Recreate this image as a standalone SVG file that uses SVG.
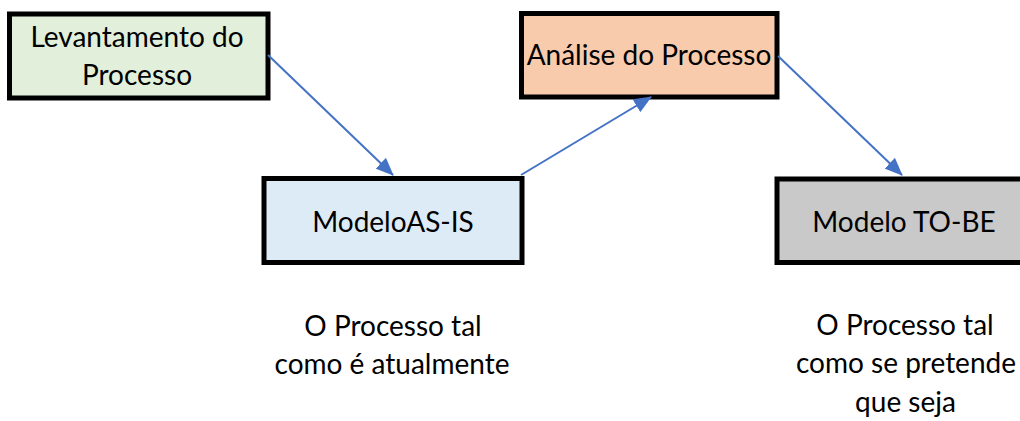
<svg xmlns="http://www.w3.org/2000/svg" width="1020" height="421" viewBox="0 0 1020 421">
<style>
.box{stroke:#000;stroke-width:5}
.t{font-family:Lato,"Liberation Sans",sans-serif;font-size:28px;fill:#000;text-anchor:middle}
.c{stroke:#4472C4;stroke-width:2;fill:none;marker-end:url(#ah)}
</style>
<defs>
<marker id="ah" viewBox="0 0 18 15" refX="17" refY="7.5" markerWidth="18" markerHeight="15" markerUnits="userSpaceOnUse" orient="auto">
<path d="M0,0 L18,7.5 L0,15 z" fill="#4472C4"/>
</marker>
</defs>
<rect width="1020" height="421" fill="#fff"/>
<g id="levantamento">
<rect class="box" x="9.5" y="14" width="258.5" height="84" fill="#E2EFDA"/>
<text class="t" x="137" y="46.5">Levantamento do</text>
<text class="t" x="137" y="85">Processo</text>
</g>
<g id="analise">
<rect class="box" x="521.5" y="13.5" width="255.5" height="83.5" fill="#F8CBAD"/>
<text class="t" x="649" y="65">Análise do Processo</text>
</g>
<g id="asis">
<rect class="box" x="264" y="178.5" width="258" height="84" fill="#DDEBF7"/>
<text class="t" x="393" y="231.5">ModeloAS-IS</text>
</g>
<g id="tobe">
<rect class="box" x="777" y="179" width="257" height="83.5" fill="#C9C9C9"/>
<text class="t" x="904" y="231.5">Modelo TO-BE</text>
</g>
<g id="nota-asis">
<text class="t" x="393" y="336">O Processo tal</text>
<text class="t" x="392" y="374">como é atualmente</text>
</g>
<g id="nota-tobe">
<text class="t" x="905" y="335">O Processo tal</text>
<text class="t" x="906" y="373">como se pretende</text>
<text class="t" x="905.5" y="411.5">que seja</text>
</g>
<g id="connectors">
<line class="c" x1="268" y1="55" x2="393" y2="175"/>
<line class="c" x1="521" y1="175" x2="651" y2="97"/>
<line class="c" x1="778" y1="56" x2="902" y2="175"/>
</g>
</svg>
